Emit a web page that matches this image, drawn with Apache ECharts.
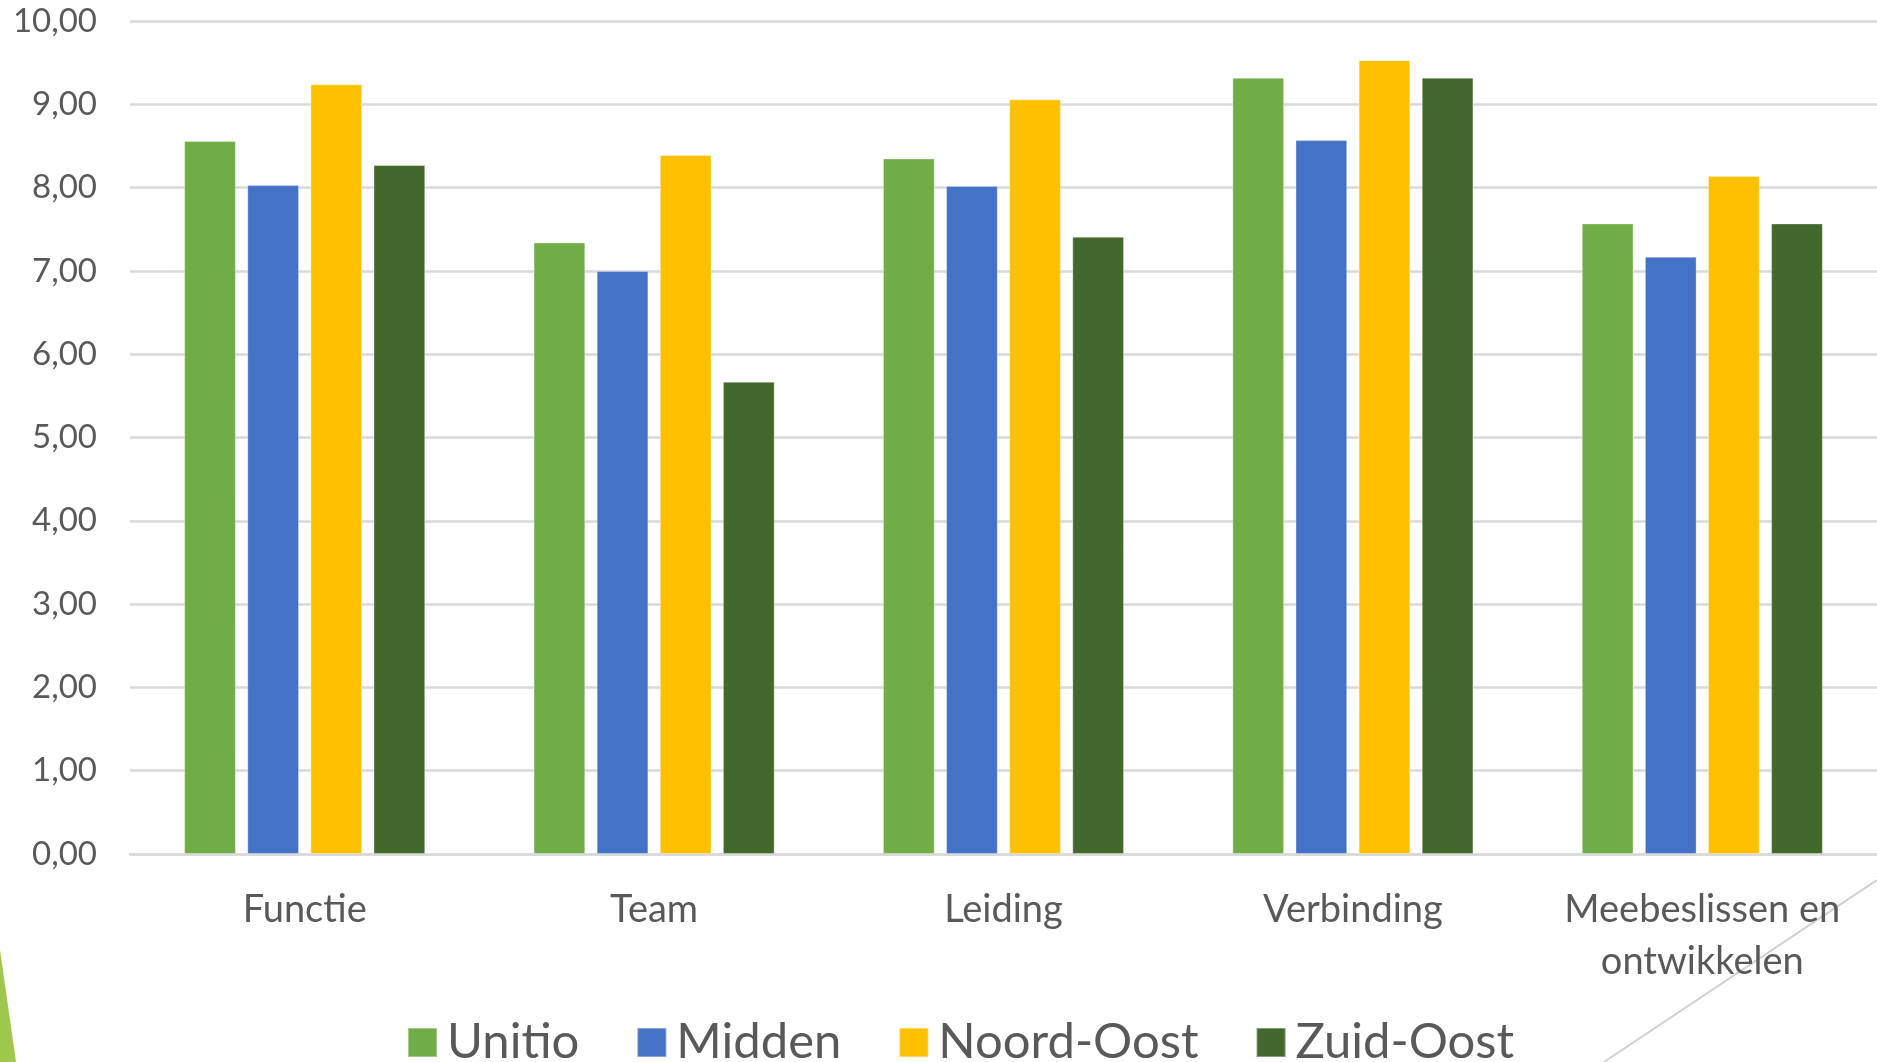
<!DOCTYPE html>
<html>
<head>
<meta charset="utf-8">
<script src="https://cdn.jsdelivr.net/npm/echarts@6/dist/echarts.min.js"></script>
<style>
html,body{margin:0;padding:0;background:#fff;}
#chart{width:1877px;height:1062px;}
</style>
</head>
<body>
<div id="chart"></div>
<script>
const categories = ['Functie', 'Team', 'Leiding', 'Verbinding', 'Meebeslissen en\nontwikkelen'];
const seriesNames = ['Unitio', 'Midden', 'Noord-Oost', 'Zuid-Oost'];
const unitio    = [8.56, 7.34, 8.35, 9.32, 7.57];
const midden    = [8.03, 7.00, 8.02, 8.57, 7.17];
const noordOost = [9.24, 8.39, 9.06, 9.53, 8.14];
const zuidOost  = [8.27, 5.67, 7.41, 9.32, 7.57];
const colors = ['#70AD47', '#4472C4', '#FFC000', '#43682B'];
const yTicks = { min: 0, max: 10, interval: 1 };

const seriesData = [unitio, midden, noordOost, zuidOost];
const font = 'Lato, "Noto Sans", sans-serif';
const textColor = '#595959';

const chart = echarts.init(document.getElementById('chart'));
chart.setOption({
  backgroundColor: '#ffffff',
  animation: false,
  textStyle: { fontFamily: font },
  grid: { left: 130, right: 0, top: 21, bottom: 208, containLabel: false },
  legend: {
    left: 402,
    top: 1013,
    itemWidth: 29,
    itemHeight: 29,
    itemGap: 57,
    icon: 'rect',
    textStyle: { fontFamily: font, fontSize: 49, color: textColor, padding: [0, 0, 0, 5] },
    data: seriesNames
  },
  xAxis: {
    type: 'category',
    data: categories,
    axisLine: { show: true, lineStyle: { color: '#d9d9d9', width: 2.5 } },
    axisTick: { show: false },
    axisLabel: {
      fontFamily: font, fontSize: 38, color: textColor,
      margin: 30, lineHeight: 52, interval: 0
    }
  },
  yAxis: {
    type: 'value',
    min: yTicks.min,
    max: yTicks.max,
    interval: yTicks.interval,
    axisLine: { show: false },
    axisTick: { show: false },
    splitLine: { lineStyle: { color: '#d9d9d9', width: 2.5 } },
    axisLabel: {
      fontFamily: font, fontSize: 33, color: textColor, margin: 33,
      formatter: v => v.toFixed(2).replace('.', ',')
    }
  },
  series: seriesNames.map((name, i) => ({
    name: name,
    type: 'bar',
    data: seriesData[i],
    barGap: '22%',
    barCategoryGap: '31%',
    itemStyle: { color: colors[i], borderColor: 'rgba(255,255,255,0.35)', borderWidth: 1 }
  })),
  graphic: [
    {
      type: 'polygon',
      shape: { points: [[0, 950], [16, 1062], [0, 1062]] },
      style: { fill: '#9DC84B' },
      silent: true
    },
    {
      type: 'line',
      shape: { x1: 1877, y1: 880, x2: 1604, y2: 1062 },
      style: { stroke: '#d0d0d0', lineWidth: 2 },
      silent: true
    }
  ]
});
</script>
</body>
</html>
